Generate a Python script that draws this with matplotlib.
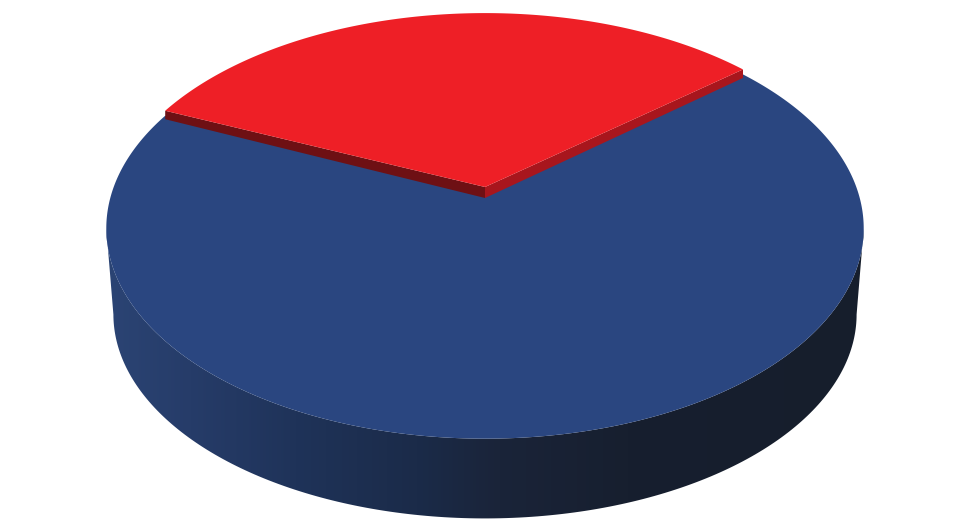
import numpy as np
import matplotlib
# no display here
matplotlib.use('Agg')
from matplotlib import pyplot as plt
from matplotlib.colors import LinearSegmentedColormap

# slice shares in percent
labels = ['Blue', 'Red']
values = [67.6, 32.4]
start_angle = 39.8
colors = ['#2A4680', '#EE1F26']

# shading along the blue rim, left to right
rim_colors = ['#2B4474', '#263C69', '#1F3359', '#1B2B49', '#1A2439', '#171F2F', '#161E2C']
rim_stops = [0.0, 0.11, 0.25, 0.41, 0.52, 0.69, 1.0]

# pie seen in perspective, in pixels
cx, k = 485.0, 0.173
A_top, B_top, y_blue, y_red = 373.0, 204.0, 192.0, 187.0
A_low, B_low, y_low = 366.0, 198.0, 279.0
depth_apex, depth_tip = 11.0, 8.5


def project(deg, A, B, y0):
    t = np.radians(deg)
    d = 1 + k * np.sin(t)
    return cx + A * np.cos(t) / d, y0 - B * np.sin(t) / d


fig = plt.figure(figsize=(9.64, 5.26), dpi=100)
ax = fig.add_axes([0, 0, 1, 1])
ax.set_xlim(0, 964)
ax.set_ylim(526, 0)
ax.axis('off')

red_span = values[1] / sum(values) * 360
red_end = start_angle + red_span

# rim: hull of the top and bottom discs between their widest points
t_rim = np.linspace(190, 350, 200)
x_t, y_t = project(t_rim, A_top, B_top, y_blue)
x_b, y_b = project(t_rim, A_low, B_low, y_low)
rim = ax.fill(np.r_[x_t, x_b[::-1]], np.r_[y_t, y_b[::-1]], color='none')[0]
cmap = LinearSegmentedColormap.from_list('rim', list(zip(rim_stops, rim_colors)))
grad = ax.imshow(np.linspace(0, 1, 512)[None, :], cmap=cmap, extent=[106, 864, 526, 0],
                 aspect='auto', zorder=1)
grad.set_clip_path(rim)
ax.set_xlim(0, 964)
ax.set_ylim(526, 0)

# blue top
t_blue = np.linspace(red_end, start_angle + 360, 400)
x, y = project(t_blue, A_top, B_top, y_blue)
ax.fill(np.r_[cx, x], np.r_[y_blue, y], color=colors[0], lw=0, zorder=2)

# red slice, its two cut faces first
x0, y0 = project(start_angle, A_top, B_top, y_red)
x1, y1 = project(red_end, A_top, B_top, y_red)
ax.fill([cx, x0, x0, cx], [y_red, y0, y0 + depth_tip, y_red + depth_apex],
        color='#A8161D', lw=0, zorder=3)
ax.fill([cx, x1, x1, cx], [y_red, y1, y1 + depth_tip, y_red + depth_apex],
        color='#6E1014', lw=0, zorder=3)
t_red = np.linspace(start_angle, red_end, 200)
x, y = project(t_red, A_top, B_top, y_red)
ax.fill(np.r_[cx, x], np.r_[y_red, y], color=colors[1], lw=0, zorder=4)

plt.savefig('out.png', dpi=100)
